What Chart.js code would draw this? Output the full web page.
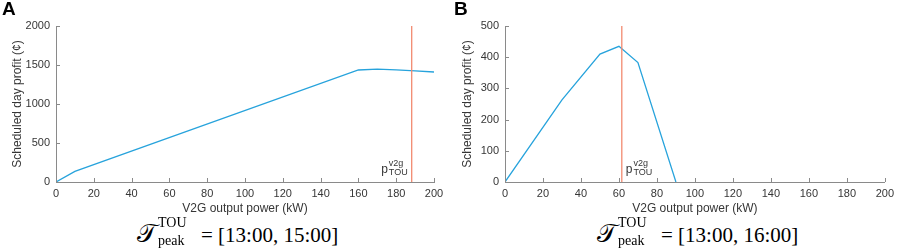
<!DOCTYPE html>
<html>
<head>
<meta charset="utf-8">
<script src="https://cdn.jsdelivr.net/npm/chart.js@4/dist/chart.umd.min.js"></script>
<style>
  html, body { margin: 0; padding: 0; background: #fff; }
  body { width: 899px; height: 249px; position: relative; overflow: hidden; font-family: "Liberation Sans", Arial, sans-serif; }
  .panel { position: absolute; top: 0; }
  .letter { position: absolute; top: -2px; font: bold 19px "Liberation Sans", Arial, sans-serif; color: #000; }
  .cap { position: absolute; top: 225px; height: 21px; line-height: 21px; font-family: "Liberation Serif", "Times New Roman", serif; font-size: 21px; color: #000; white-space: nowrap; }
  .cap .T { font-size: 26px; line-height: 0; }
  .cap .ss { display: inline-block; position: relative; width: 44px; height: 0; }
  .cap .ss span { position: absolute; left: 1px; line-height: 0; font-size: 14px; }
  .cap .ss .sup { bottom: 19px; }
  .cap .ss .sub { bottom: 1px; }
</style>
</head>
<body>
<div class="panel" style="left:0;width:450px;height:218px"><canvas id="cA" width="450" height="218"></canvas></div>
<div class="panel" style="left:450px;width:449px;height:218px"><canvas id="cB" width="449" height="218"></canvas></div>
<div class="letter" style="left:2px">A</div>
<div class="letter" style="left:454px">B</div>
<div class="cap" style="left:137px"><span class="T">𝒯</span><span class="ss"><span class="sup">TOU</span><span class="sub">peak</span></span>= [13:00, 15:00]</div>
<div class="cap" style="left:597px"><span class="T">𝒯</span><span class="ss"><span class="sup">TOU</span><span class="sub">peak</span></span>= [13:00, 16:00]</div>
<script>
// ---- data ----
const powerA = [0, 10, 160, 170, 180, 190, 200];
const profitA = [0, 137, 1436, 1447, 1438, 1425, 1410];
const touA = 188.2;

const powerB = [0, 30, 50, 60, 70, 90];
const profitB = [0, 263, 410, 435, 383, 0];
const touB = 61.5;

const xTicks = [0, 20, 40, 60, 80, 100, 120, 140, 160, 180, 200];
const yTicksA = [0, 500, 1000, 1500, 2000];
const yTicksB = [0, 100, 200, 300, 400, 500];

const xTitle = 'V2G output power (kW)';
const yTitle = 'Scheduled day profit (\u00A2)';

const BLUE = '#27a3dc';
const ORANGE = '#f28a70';
const AXIS = '#8a8a8a';
const TXT = '#363636';
const FONT = "'Liberation Sans', Arial, sans-serif";

const inTicks = {
  id: 'inTicks',
  afterDraw(chart) {
    const ctx = chart.ctx, x = chart.scales.x, y = chart.scales.y;
    const a = chart.chartArea;
    ctx.save();
    ctx.strokeStyle = AXIS; ctx.lineWidth = 1;
    ctx.beginPath();
    x.ticks.forEach(t => { const px = Math.round(x.getPixelForValue(t.value)) + 0.5; ctx.moveTo(px, a.bottom); ctx.lineTo(px, a.bottom - 4); });
    y.ticks.forEach(t => { const py = Math.round(y.getPixelForValue(t.value)) + 0.5; ctx.moveTo(a.left, py); ctx.lineTo(a.left + 4, py); });
    ctx.stroke();
    // p_TOU^v2g label
    const o = chart.options.plugins.inTicks;
    const lx = x.getPixelForValue(o.tou);
    ctx.fillStyle = TXT;
    ctx.textBaseline = 'alphabetic';
    ctx.font = '12px ' + FONT;
    const pw = ctx.measureText('p').width;
    ctx.font = '9px ' + FONT;
    const sw = Math.max(ctx.measureText('v2g').width, ctx.measureText('TOU').width);
    const total = pw + 1 + sw;
    const x0 = o.side === 'left' ? lx - 4 - total : lx + 4;
    ctx.font = '12px ' + FONT;
    ctx.textAlign = 'left';
    ctx.fillText('p', x0, a.bottom - 9);
    ctx.font = '9px ' + FONT;
    ctx.fillText('v2g', x0 + pw + 1, a.bottom - 16);
    ctx.fillText('TOU', x0 + pw + 1, a.bottom - 7);
    ctx.restore();
  }
};

function makeChart(id, xs, ys, tou, yMax, yTicks, yWidth, padRight, side) {
  const pts = xs.map((v, i) => ({ x: v, y: ys[i] }));
  return new Chart(document.getElementById(id), {
    type: 'line',
    data: {
      datasets: [
        { data: [{ x: tou, y: 0 }, { x: tou, y: yMax }], borderColor: ORANGE, borderWidth: 1.3, pointRadius: 0, tension: 0 },
        { data: pts, borderColor: BLUE, borderWidth: 1.3, pointRadius: 0, tension: 0 }
      ]
    },
    options: {
      responsive: false, animation: false, events: [],
      layout: { padding: { top: 26, right: padRight, bottom: 0, left: 0 } },
      plugins: { legend: { display: false }, tooltip: { enabled: false }, inTicks: { tou: tou, side: side } },
      scales: {
        x: {
          type: 'linear', min: 0, max: 200,
          afterBuildTicks: s => { s.ticks = xTicks.map(v => ({ value: v })); },
          afterFit: s => { s.height = 36; },
          grid: { display: false, drawTicks: false },
          border: { display: true, color: AXIS, width: 1 },
          ticks: { padding: 5, color: TXT, font: { family: FONT, size: 11 }, maxRotation: 0, callback: v => String(v) },
          title: { display: true, text: xTitle, color: TXT, font: { family: FONT, size: 12 }, padding: { top: 0, bottom: 2 } }
        },
        y: {
          min: 0, max: yMax,
          afterBuildTicks: s => { s.ticks = yTicks.map(v => ({ value: v })); },
          afterFit: s => { s.width = yWidth; },
          grid: { display: false, drawTicks: false },
          border: { display: true, color: AXIS, width: 1 },
          ticks: { padding: 6, color: TXT, font: { family: FONT, size: 11 }, callback: v => String(v) },
          title: { display: true, text: yTitle, color: TXT, font: { family: FONT, size: 12 }, padding: { top: 10, bottom: 0 } }
        }
      }
    },
    plugins: [inTicks]
  });
}

makeChart('cA', powerA, profitA, touA, 2000, yTicksA, 56, 16, 'left');
makeChart('cB', powerB, profitB, touB, 500, yTicksB, 55, 10, 'right');
</script>
</body>
</html>
